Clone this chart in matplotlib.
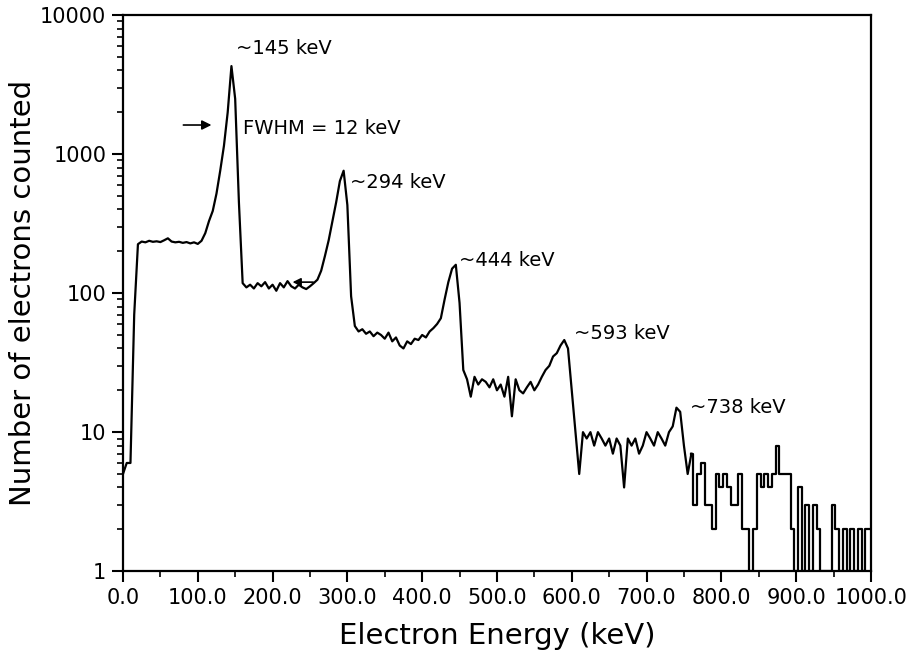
import numpy as np
import matplotlib
matplotlib.use("Agg")
import matplotlib.pyplot as plt
from matplotlib import ticker

# Electron energy grid (keV), one reading every 5 keV
energy = np.arange(0, 1001, 5)

# Counts
counts = [
    5, 6, 6, 70, 225, 235, 232, 238, 234, 236,            # 0-45
    233, 240, 248, 235, 232, 234, 230, 233, 228, 232,     # 50-95
    226, 238, 270, 330, 390, 520, 760, 1150, 2000, 4300,  # 100-145
    2500, 450, 118, 110, 115, 108, 118, 112, 120, 108,    # 150-195
    115, 104, 118, 110, 122, 112, 108, 115, 110, 107,     # 200-245
    112, 118, 125, 145, 185, 240, 330, 450, 640, 760,     # 250-295
    430, 95, 58, 53, 55, 51, 53, 49, 52, 50,              # 300-345
    47, 52, 45, 48, 42, 40, 45, 43, 47, 46,               # 350-395
    50, 48, 53, 56, 60, 66, 90, 120, 150, 160,            # 400-445
    85, 28, 24, 18, 25, 22, 24, 23, 21, 24,               # 450-495
    20, 22, 18, 25, 13, 24, 20, 19, 21, 23,               # 500-545
    20, 22, 25, 28, 30, 35, 37, 42, 46, 40,               # 550-595
    20, 10, 5, 10, 9, 10, 8, 10, 9, 8,                    # 600-645
    9, 7, 9, 8, 4, 9, 8, 9, 7, 8,                         # 650-695
    10, 9, 8, 10, 9, 8, 10, 11, 15, 14,                   # 700-745
    8, 5, 7, 3, 5, 6, 3, 3, 2, 5,                         # 750-795
    4, 5, 4, 3, 3, 5, 2, 2, 1, 2,                         # 800-845
    5, 4, 5, 4, 5, 8, 5, 5, 5, 2,                         # 850-895
    1, 4, 1, 3, 1, 3, 2, 1, 1, 1,                         # 900-945
    3, 2, 1, 2, 1, 2, 1, 2, 1, 2,                         # 950-995
    2,                                                    # 1000
]

# Peak labels: text, energy position, count position
peak_labels = ["~145 keV", "~294 keV", "~444 keV", "~593 keV", "~738 keV"]
label_e = [151, 303, 449, 603, 758]
label_n = [5800, 620, 173, 51, 15]

x_ticks = [0, 100, 200, 300, 400, 500, 600, 700, 800, 900, 1000]
y_ticks = [1, 10, 100, 1000, 10000]

plt.rcParams['font.family'] = ['DejaVu Sans']

fig = plt.figure(figsize=(9.11, 6.58), dpi=100)
ax = fig.add_axes([0.135, 0.132, 0.821, 0.845])

# smooth part, then the low-count tail drawn as steps
split = 152  # index of 760 keV
ax.plot(energy[:split + 1], counts[:split + 1], color="black", lw=1.6)
ax.plot(energy[split:], counts[split:], color="black", lw=1.6, drawstyle="steps-mid")

ax.set_yscale("log")
ax.set_xlim(0, 1000)
ax.set_ylim(1, 10000)

ax.set_xticks(x_ticks)
ax.xaxis.set_minor_locator(ticker.MultipleLocator(50))
ax.xaxis.set_major_formatter(ticker.FuncFormatter(lambda v, pos: f"{v:.1f}"))
ax.set_yticks(y_ticks)
ax.yaxis.set_major_formatter(ticker.FuncFormatter(lambda v, pos: f"{int(round(v))}"))
ax.yaxis.set_minor_locator(ticker.LogLocator(base=10, subs=np.arange(2, 10)))
ax.yaxis.set_minor_formatter(ticker.NullFormatter())

ax.tick_params(which="major", direction="out", length=8, width=1.5, labelsize=15, pad=4)
ax.tick_params(which="minor", direction="out", length=4, width=1.2)
ax.tick_params(top=False, right=False, which="both")
for s in ax.spines.values():
    s.set_linewidth(1.6)

ax.set_xlabel("Electron Energy (keV)", fontsize=21, labelpad=10)
ax.set_ylabel("Number of electrons counted", fontsize=21, labelpad=2)

for txt, e, n in zip(peak_labels, label_e, label_n):
    ax.text(e, n, txt, fontsize=14, ha="left", va="center")

ax.text(160, 1540, "FWHM = 12 keV", fontsize=14, ha="left", va="center")
ax.annotate("", xy=(122, 1620), xytext=(77, 1620),
            arrowprops=dict(arrowstyle="-|>", color="black", lw=1.2, mutation_scale=14))
ax.annotate("", xy=(223, 120), xytext=(258, 120),
            arrowprops=dict(arrowstyle="-|>", color="black", lw=1.2, mutation_scale=12))

fig.savefig("out.png", dpi=100)
